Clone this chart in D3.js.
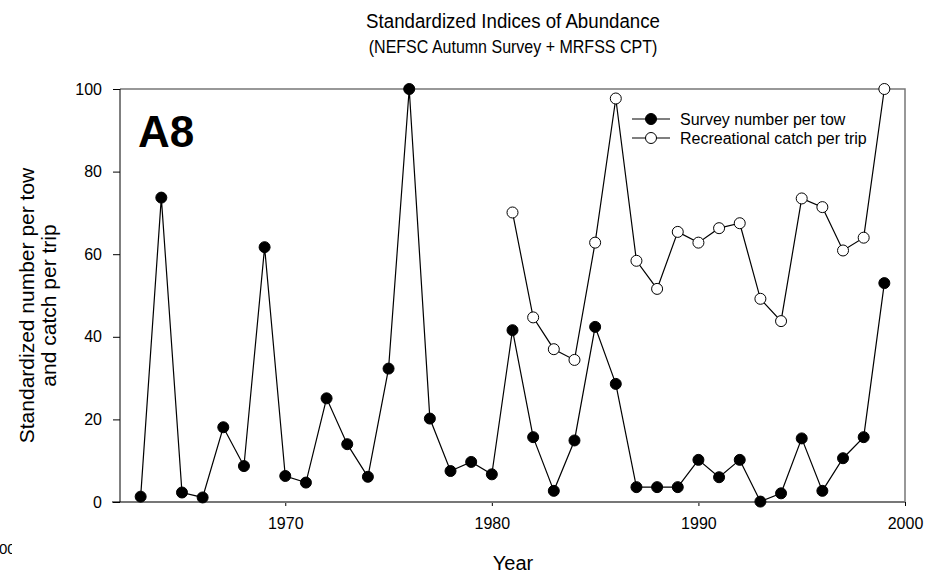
<!DOCTYPE html>
<html>
<head>
<meta charset="utf-8">
<script src="https://d3js.org/d3.v7.min.js"></script>
<style>
  body { margin: 0; background: #fff; }
  text { font-family: "Liberation Sans", Arial, sans-serif; fill: #000; }
  .frame { stroke: #777; stroke-width: 1.5; fill: none; }
  .series-line { fill: none; stroke: #000; stroke-width: 1.2; }
</style>
</head>
<body>
<div id="vis"></div>
<script>

var surveyYears = [1963,1964,1965,1966,1967,1968,1969,1970,1971,1972,1973,1974,1975,1976,1977,1978,1979,1980,1981,1982,1983,1984,1985,1986,1987,1988,1989,1990,1991,1992,1993,1994,1995,1996,1997,1998,1999];
var surveyValues = [1.3,73.7,2.3,1.1,18.1,8.7,61.7,6.3,4.7,25.1,14.0,6.1,32.3,100,20.2,7.5,9.7,6.7,41.6,15.7,2.7,14.9,42.4,28.6,3.6,3.6,3.6,10.2,6.0,10.2,0.1,2.1,15.4,2.7,10.6,15.7,53.0];

var recYears = [1981,1982,1983,1984,1985,1986,1987,1988,1989,1990,1991,1992,1993,1994,1995,1996,1997,1998,1999];
var recValues = [70.1,44.7,37.0,34.4,62.8,97.7,58.4,51.6,65.4,62.8,66.3,67.5,49.2,43.8,73.5,71.4,60.9,64.0,100];

var xTicks = [1970, 1980, 1990, 2000];
var yTicks = [0, 20, 40, 60, 80, 100];
var legendLabels = ["Survey number per tow", "Recreational catch per trip"];

var width = 943, height = 578;
var margin = {top: 89, right: 38, bottom: 76, left: 120};
var plotW = width - margin.left - margin.right;
var plotH = height - margin.top - margin.bottom;
var r = 5.5;

var svg = d3.select("#vis").append("svg")
  .attr("width", width)
  .attr("height", height);

var x = d3.scaleLinear().domain([1962, 2000]).range([0, plotW]);
var y = d3.scaleLinear().domain([0, 100]).range([plotH, 0]);

// titles (the source text is a bit narrow for its height)
svg.append("text")
  .attr("transform", "translate(513,28) scale(0.89,1)")
  .attr("text-anchor", "middle")
  .style("font-size", "21px")
  .text("Standardized Indices of Abundance");
svg.append("text")
  .attr("transform", "translate(513,53) scale(0.89,1)")
  .attr("text-anchor", "middle")
  .style("font-size", "18px")
  .text("(NEFSC Autumn Survey + MRFSS CPT)");

// stray clipped label at bottom-left
svg.append("clipPath").attr("id", "stray")
  .append("rect").attr("x", 0).attr("y", 530).attr("width", 12).attr("height", 30);
svg.append("text")
  .attr("clip-path", "url(#stray)")
  .attr("x", -1).attr("y", 554)
  .style("font-size", "15px")
  .text("00");

var g = svg.append("g")
  .attr("transform", "translate(" + margin.left + "," + margin.top + ")");

// frame: top and right
g.append("path")
  .attr("class", "frame")
  .attr("d", "M0,0 L" + plotW + ",0 L" + plotW + "," + plotH);

// x axis
var xAxis = g.append("g")
  .attr("transform", "translate(0," + plotH + ")")
  .call(d3.axisBottom(x).tickValues(xTicks).tickFormat(d3.format("d")).tickSize(4).tickPadding(12));
xAxis.select(".domain").remove();
xAxis.selectAll("line").attr("stroke", "#000");
xAxis.selectAll("text").style("font-size", "16px").style("font-family", "'Liberation Sans', Arial, sans-serif");
g.append("line")
  .attr("x1", -8).attr("x2", plotW)
  .attr("y1", plotH).attr("y2", plotH)
  .attr("stroke", "#777").attr("stroke-width", 2);

// y axis
var yAxis = g.append("g")
  .call(d3.axisLeft(y).tickValues(yTicks).tickSize(7).tickPadding(11));
yAxis.select(".domain").attr("d", "M0,0 V" + plotH);
yAxis.selectAll("line").attr("stroke", "#000");
yAxis.selectAll("text").style("font-size", "16px").style("font-family", "'Liberation Sans', Arial, sans-serif");

// axis labels
svg.append("text")
  .attr("x", 513).attr("y", 570)
  .attr("text-anchor", "middle")
  .style("font-size", "20px")
  .text("Year");

var yLab = svg.append("text")
  .attr("transform", "translate(38," + (margin.top + plotH / 2 + 10) + ") rotate(-90)")
  .attr("text-anchor", "middle")
  .style("font-size", "21px");
yLab.append("tspan").attr("x", 0).attr("dy", -4).text("Standardized number per tow");
yLab.append("tspan").attr("x", 0).attr("dy", 22).text("and catch per trip");

// panel tag
g.append("text")
  .attr("x", 18).attr("y", 58)
  .style("font-size", "44px")
  .style("font-weight", "bold")
  .text("A8");

// series
var survey = surveyYears.map(function(d, i) { return {year: d, value: surveyValues[i]}; });
var rec = recYears.map(function(d, i) { return {year: d, value: recValues[i]}; });

var line = d3.line()
  .x(function(d) { return x(d.year); })
  .y(function(d) { return y(d.value); });

g.append("path").datum(survey).attr("class", "series-line").attr("d", line);
g.append("path").datum(rec).attr("class", "series-line").attr("d", line);

g.selectAll(".pt-survey").data(survey).enter()
  .append("circle")
  .attr("class", "pt-survey")
  .attr("cx", function(d) { return x(d.year); })
  .attr("cy", function(d) { return y(d.value); })
  .attr("r", r)
  .attr("fill", "#000")
  .attr("stroke", "#000");

g.selectAll(".pt-rec").data(rec).enter()
  .append("circle")
  .attr("class", "pt-rec")
  .attr("cx", function(d) { return x(d.year); })
  .attr("cy", function(d) { return y(d.value); })
  .attr("r", r)
  .attr("fill", "#fff")
  .attr("stroke", "#000");

// legend
var legend = svg.selectAll(".legend").data(legendLabels).enter()
  .append("g")
  .attr("class", "legend")
  .attr("transform", function(d, i) { return "translate(632," + (119 + i * 19) + ")"; });
legend.append("line")
  .attr("x1", 0).attr("x2", 38)
  .attr("stroke", "#000").attr("stroke-width", 1.2);
legend.append("circle")
  .attr("cx", 19).attr("r", r)
  .attr("fill", function(d, i) { return i === 0 ? "#000" : "#fff"; })
  .attr("stroke", "#000");
legend.append("text")
  .attr("x", 48).attr("y", 6)
  .style("font-size", "16px")
  .text(function(d) { return d; });

</script>
</body>
</html>
